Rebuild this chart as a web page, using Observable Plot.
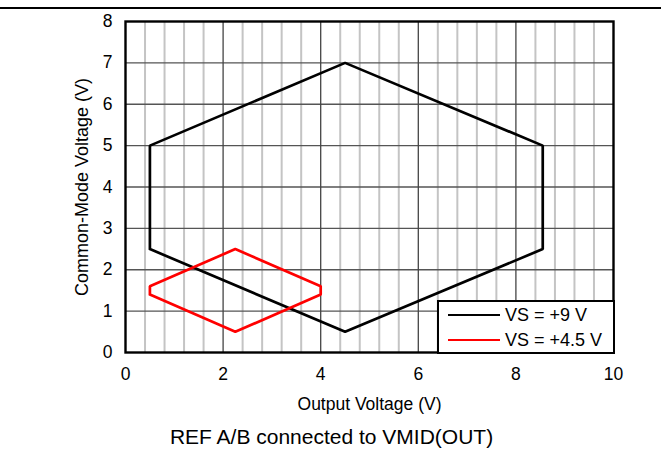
<!DOCTYPE html>
<html>
<head>
<meta charset="utf-8">
<script src="https://cdn.jsdelivr.net/npm/d3@7"></script>
<script src="https://cdn.jsdelivr.net/npm/@observablehq/plot@0.6"></script>
<style>
  html, body { margin: 0; padding: 0; background: #fff; }
  #wrap { position: relative; width: 661px; height: 457px; overflow: hidden; font-family: "Liberation Sans", Arial, sans-serif; }
  #topline { position: absolute; left: 0; top: 7px; width: 661px; height: 2px; background: #000; }
  #legend { position: absolute; left: 437px; top: 300px; width: 174px; height: 50px; border: 2px solid #000; background: #fff; }
  .row { position: absolute; left: 0; height: 24px; display: flex; align-items: center; }
  .sw { width: 52px; height: 2.5px; margin-left: 9px; margin-right: 5px; }
  .lt { font-size: 18px; color: #000; white-space: nowrap; }
</style>
</head>
<body>
<div id="wrap"><div id="topline"></div></div>
<script>
// Series
const seriesNames = ["VS = +9 V", "VS = +4.5 V"];
const seriesColors = ["#000000", "#ff0000"];
const vs9X = [0.5, 0.5, 4.5, 8.55, 8.55, 4.5, 0.5];
const vs9Y = [2.5, 5, 7, 5, 2.5, 0.5, 2.5];
const vs45X = [0.5, 0.5, 2.25, 4, 4, 2.25, 0.5];
const vs45Y = [1.4, 1.6, 2.5, 1.6, 1.4, 0.5, 1.4];
// Ticks
const xTicks = [0, 2, 4, 6, 8, 10];
const yTicks = [0, 1, 2, 3, 4, 5, 6, 7, 8];
const xMinorGrid = [0.4, 0.8, 1.2, 1.6, 2.4, 2.8, 3.2, 3.6, 4.4, 4.8, 5.2, 5.6, 6.4, 6.8, 7.2, 7.6, 8.4, 8.8, 9.2, 9.6];
const xMajorGrid = [2, 4, 6, 8];
const yGrid = [1, 2, 3, 4, 5, 6, 7];
// Texts
const xLabel = "Output Voltage (V)";
const yLabel = "Common-Mode Voltage (V)";
const caption = "REF A/B connected to VMID(OUT)";

const data = [
  ...vs9X.map((x, i) => ({x, y: vs9Y[i], s: seriesNames[0]})),
  ...vs45X.map((x, i) => ({x, y: vs45Y[i], s: seriesNames[1]}))
];

const chart = Plot.plot({
  width: 661,
  height: 457,
  marginLeft: 125,
  marginRight: 48,
  marginTop: 21,
  marginBottom: 105,
  style: {fontFamily: "'Liberation Sans', Arial, sans-serif", fontSize: "17.5px", color: "#000", background: "transparent", overflow: "visible"},
  x: {domain: [0, 10], label: null},
  y: {domain: [0, 8], label: null},
  color: {domain: seriesNames, range: seriesColors},
  marks: [
    Plot.ruleX(xMinorGrid, {stroke: "#c4c4c4", strokeWidth: 2}),
    Plot.ruleY(yGrid, {stroke: "#555555", strokeWidth: 1.3}),
    Plot.ruleX(xMajorGrid, {stroke: "#444444", strokeWidth: 1.3}),
    Plot.line(data, {x: "x", y: "y", z: "s", stroke: "s", strokeWidth: 2.7, strokeLinejoin: "miter"}),
    Plot.frame({stroke: "#000", strokeWidth: 2.4}),
    Plot.axisX(xTicks, {tickSize: 0, tickPadding: 15, fontSize: 17.5, label: null}),
    Plot.axisY(yTicks, {tickSize: 0, tickPadding: 13, fontSize: 17.5, label: null}),
    Plot.text([xLabel], {frameAnchor: "bottom", dy: 52, fontSize: 17.5, lineAnchor: "middle"}),
    Plot.text([yLabel], {frameAnchor: "left", textAnchor: "middle", dx: -43, rotate: -90, fontSize: 18}),
    Plot.text([caption], {frameAnchor: "bottom", dx: -38, dy: 85, fontSize: 21, lineAnchor: "middle"})
  ]
});

const wrap = document.getElementById("wrap");
chart.style.position = "absolute";
chart.style.left = "0px";
chart.style.top = "0px";
wrap.appendChild(chart);

const legend = document.createElement("div");
legend.id = "legend";
seriesNames.forEach((name, i) => {
  const row = document.createElement("div");
  row.className = "row";
  row.style.top = (i === 0 ? 1 : 26) + "px";
  const sw = document.createElement("div");
  sw.className = "sw";
  sw.style.background = seriesColors[i];
  const t = document.createElement("span");
  t.className = "lt";
  t.textContent = name;
  row.appendChild(sw);
  row.appendChild(t);
  legend.appendChild(row);
});
wrap.appendChild(legend);
</script>
</body>
</html>
